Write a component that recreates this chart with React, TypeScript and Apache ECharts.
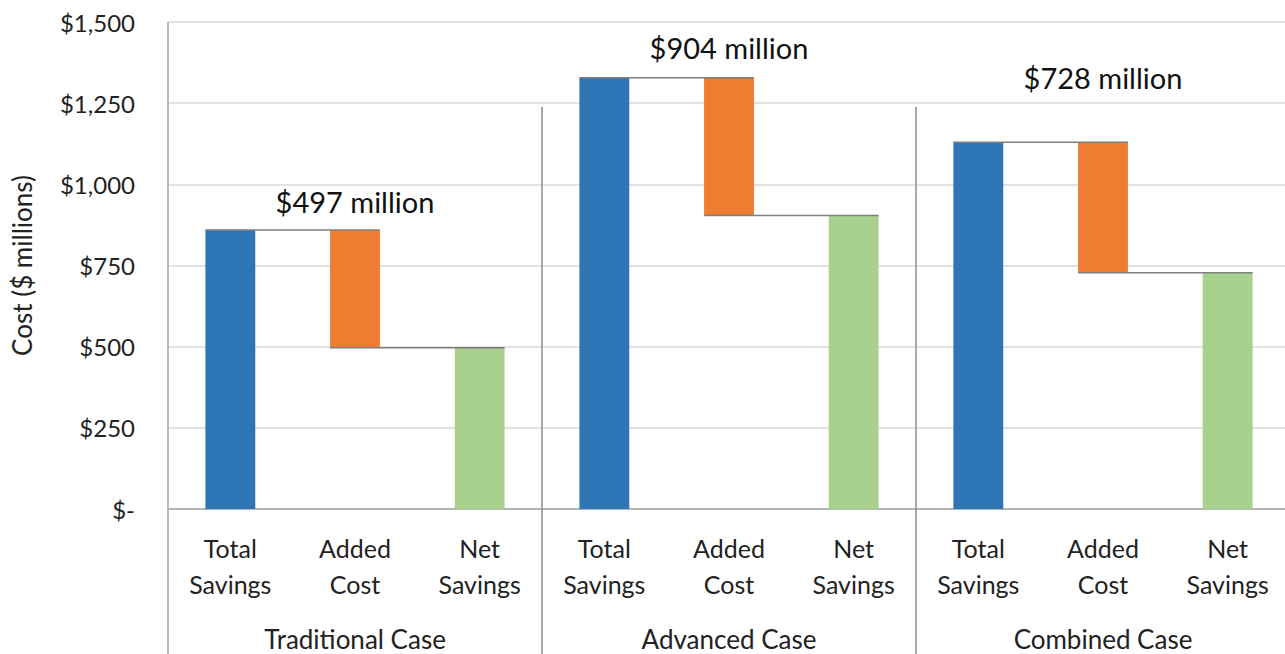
import React, { useEffect, useRef } from "react";
import * as echarts from "echarts";

const cases = ["Traditional Case", "Advanced Case", "Combined Case"];
const steps = ["Total\nSavings", "Added\nCost", "Net\nSavings"];
const totalSavings = [859, 1328, 1130];
const netSavings = [497, 904, 728];
const yMin = 0;
const yMax = 1500;
const yInterval = 250;

const COLORS = ["#2e75b6", "#ed7d31", "#a9d18e"];
const FONT = "Lato, 'Open Sans', sans-serif";
const labelLift = [29, 30, 65];

export default function App() {
  const ref = useRef<HTMLDivElement>(null);
  useEffect(() => {
    const chart = echarts.init(ref.current!, null, { renderer: "svg" });
    const cats: string[] = [];
    const base: number[] = [];
    const vals: any[] = [];
    const connectors: number[][] = [];
    const labels: any[] = [];
    cases.forEach((c, i) => {
      const t = totalSavings[i];
      const n = netSavings[i];
      steps.forEach((s, j) => cats.push(c + "|" + j));
      base.push(0, n, 0);
      vals.push(
        { value: t, itemStyle: { color: COLORS[0] } },
        { value: t - n, itemStyle: { color: COLORS[1] } },
        { value: n, itemStyle: { color: COLORS[2] } }
      );
      connectors.push([i * 3, t], [i * 3 + 1, n]);
      labels.push({ value: [i * 3 + 1, t, i], name: "$" + n + " million" });
    });

    chart.setOption({
      animation: false,
      grid: { left: 168, right: 0, top: 22, bottom: 145, outerBoundsMode: "none", containLabel: false },
      xAxis: [
        {
          type: "category",
          data: cats,
          boundaryGap: true,
          axisLine: { show: true, lineStyle: { color: "#a6a6a6", width: 1.5 } },
          axisTick: { show: false },
          axisLabel: {
            interval: 0,
            margin: 21,
            fontSize: 25,
            lineHeight: 36,
            fontFamily: FONT,
            color: "#222",
            formatter: (_v: string, idx: number) => steps[idx % 3],
          },
          splitLine: { show: false },
        },
        {
          type: "category",
          data: cases,
          position: "bottom",
          offset: 100,
          axisLine: { show: false },
          axisTick: { show: false },
          axisLabel: {
            interval: 0,
            margin: 16,
            fontSize: 26,
            lineHeight: 28,
            fontFamily: FONT,
            color: "#222",
          },
          splitLine: { show: false },
        },
      ],
      yAxis: {
        type: "value",
        min: yMin,
        max: yMax,
        interval: yInterval,
        name: "Cost ($ millions)",
        nameLocation: "middle",
        nameGap: 133,
        nameRotate: 90,
        nameTextStyle: { fontSize: 26, fontFamily: FONT, color: "#222" },
        axisLine: { show: false },
        axisTick: { show: false },
        axisLabel: {
          margin: 33,
          fontSize: 24,
          fontFamily: FONT,
          color: "#222",
          formatter: (v: number) => (v === 0 ? "$-" : "$" + v.toLocaleString("en-US")),
        },
        splitLine: { show: true, lineStyle: { color: "#d9d9d9", width: 1.5 } },
      },
      series: [
        {
          type: "bar",
          stack: "w",
          barWidth: "40%",
          data: base,
          itemStyle: { color: "transparent" },
          emphasis: { disabled: true },
          silent: true,
        },
        {
          type: "bar",
          stack: "w",
          barWidth: "40%",
          data: vals,
          silent: true,
        },
        {
          type: "custom",
          z: 5,
          data: connectors,
          renderItem: (_p: any, api: any) => {
            const x0 = api.value(0);
            const v = api.value(1);
            const p0 = api.coord([x0, v]);
            const p1 = api.coord([x0 + 1, v]);
            const bw = api.size([1, 0])[0] * 0.4;
            return {
              type: "line",
              shape: { x1: p0[0] - bw / 2, y1: p0[1], x2: p1[0] + bw / 2, y2: p1[1] },
              style: { stroke: "#7f7f7f", lineWidth: 1.5 },
            };
          },
        },
        {
          type: "custom",
          z: 6,
          data: labels,
          renderItem: (p: any, api: any) => {
            const pt = api.coord([api.value(0), api.value(1)]);
            const i = api.value(2);
            return {
              type: "text",
              style: {
                text: labels[p.dataIndex].name,
                x: pt[0],
                y: pt[1] - labelLift[i],
                align: "center",
                verticalAlign: "middle",
                fontSize: 29,
                fontFamily: FONT,
                fill: "#111",
              },
            };
          },
        },
      ],
    });

    const cx = (i: number) => chart.convertToPixel({ xAxisIndex: 0 }, i) as number;
    const y0 = chart.convertToPixel({ yAxisIndex: 0 }, yMax) as number;
    const sepX = [(cx(2) + cx(3)) / 2, (cx(5) + cx(6)) / 2];
    const leftX = cx(0) - (cx(1) - cx(0)) / 2;
    const graphic: any[] = [
      {
        type: "line",
        shape: { x1: leftX, y1: y0, x2: leftX, y2: 654 },
        style: { stroke: "#a6a6a6", lineWidth: 1.5 },
        z: 10,
      },
    ];
    sepX.forEach((x) =>
      graphic.push({
        type: "line",
        shape: { x1: x, y1: 107, x2: x, y2: 654 },
        style: { stroke: "#8c8c8c", lineWidth: 1.5 },
        z: 10,
      })
    );
    chart.setOption({ graphic });

    return () => chart.dispose();
  }, []);

  return (
    <div style={{ position: "fixed", left: 0, top: 0, width: 1285, height: 654, overflow: "hidden", background: "#fff" }}>
      <div ref={ref} style={{ width: 1290, height: 654 }} />
    </div>
  );
}
